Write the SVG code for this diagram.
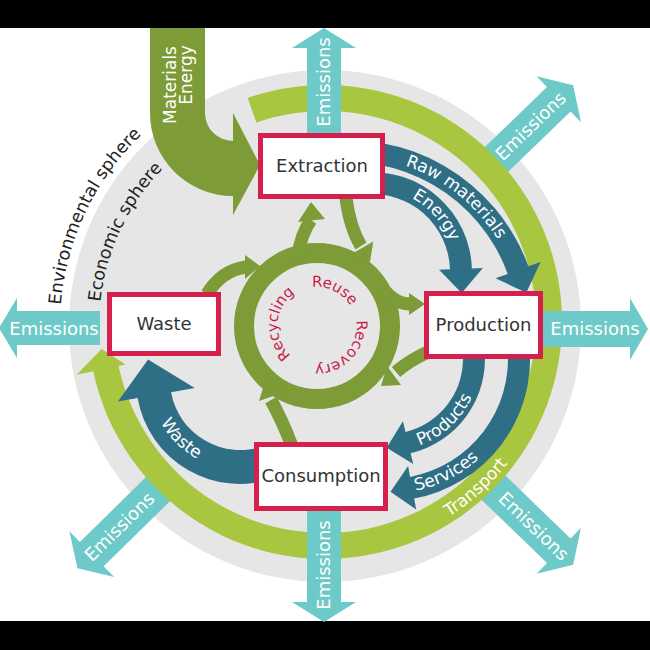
<svg xmlns="http://www.w3.org/2000/svg" width="650" height="650" viewBox="0 0 650 650">
<defs>
<style>
.em{fill:#6ecac8}
.emt{fill:#fff;font-family:"DejaVu Sans",sans-serif;font-size:18px;text-anchor:middle}
.dk{fill:#2f6f86}
.ol{fill:#7d9b36}
.olS{fill:none;stroke:#7d9b36}
.box{fill:#fff;stroke:#d51f4c;stroke-width:5}
.bt{fill:#333;font-family:"DejaVu Sans",sans-serif;font-size:18px;text-anchor:middle}
.wt{fill:#fff;font-family:"DejaVu Sans",sans-serif;font-size:17px}
.sp{fill:#222;font-family:"DejaVu Sans",sans-serif;font-size:17.5px}
.rt{fill:#c91c4a;font-family:"DejaVu Sans",sans-serif;font-size:15px}
</style>
<path id="pEnv" d="M 60,326 A 265 265 0 0 1 192.5,96.5"/>
<path id="pEco" d="M 99,326 A 226 226 0 0 1 212,130.3"/>
<path id="pTr" d="M 433.4,526 A 231 231 0 0 0 534.4,419.6"/>
<path id="pRaw" d="M 317.4,158.7 A 176 176 0 0 1 518,286.4"/>
<path id="pEn" d="M 357.4,189.3 A 84 84 0 0 1 456,272"/>
<path id="pPr" d="M 380,450.65 A 92 92 0 0 0 478.6,343"/>
<path id="pSe" d="M 376,493 A 135 135 0 0 0 522,340"/>
<path id="pWa" d="M 150.6,388 A 90 90 0 0 0 255.6,468.6"/>
<path id="pIn" d="M 297.5,359.77 A 39 39 0 1 1 336.5,292.23 A 39 39 0 1 1 297.5,359.77"/>
</defs>
<rect x="0" y="0" width="650" height="650" fill="#fff"/>
<rect x="0" y="0" width="650" height="28" fill="#000"/>
<rect x="0" y="621" width="650" height="29" fill="#000"/>
<circle cx="325" cy="326" r="256" fill="#e6e6e6"/>

<g id="emissions-diagonal">
<g transform="translate(325,325) rotate(-44)"><polygon class="em" points="225,-17 325,-17 325,-32 345,0 325,32 325,17 225,17"/></g>
<g transform="translate(325,325) rotate(44)"><polygon class="em" points="225,-17 325,-17 325,-32 345,0 325,32 325,17 225,17"/></g>
<g transform="translate(325,325) rotate(135.5)"><polygon class="em" points="225,-17 327,-17 327,-32 347,0 327,32 327,17 225,17"/></g>
</g>

<g id="transport-ring">
<path fill="#a9c640" d="M 247.8,97.9 A 237 237 0 1 1 93.2,371.3 L 76.6,374.8 L 101.7,349 L 125.5,364.4 L 118.6,365.9 A 211 211 0 1 0 256.3,122.5 Z"/>
</g>

<g id="emissions-cardinal">
<g transform="translate(324,325) rotate(-90)"><polygon class="em" points="190,-17 277,-17 277,-32 297,0 277,32 277,17 190,17"/></g>
<g transform="translate(325,329)"><polygon class="em" points="218,-18 305,-18 305,-31 323,0 305,31 305,18 218,18"/></g>
<g transform="translate(324,325) rotate(90)"><polygon class="em" points="186,-17 277,-17 277,-32 297,0 277,32 277,17 186,17"/></g>
<g transform="translate(325,328) rotate(180)"><polygon class="em" points="225,-17 308,-17 308,-30 326,0 308,30 308,17 225,17"/></g>
</g>

<g id="connectors">
<path class="dk" d="M 314.7,142.9 A 192 192 0 0 1 528.4,266.3 L 540.6,261.9 L 526.3,292.7 L 495.5,278.3 L 507.7,273.9 A 170 170 0 0 0 318.5,164.6 Z"/>
<path class="dk" d="M 363.3,172.4 A 100 100 0 0 1 471.9,268.5 L 482.9,268.1 L 461.7,292.9 L 439,269.7 L 450,269.3 A 78 78 0 0 0 365.2,194.3 Z"/>
<path class="dk" d="M 484.6,350.5 A 97 97 0 0 1 410.6,453.3 L 413.2,464 L 386.7,447.7 L 402.9,421.2 L 405.5,431.9 A 75 75 0 0 0 462.7,352.5 Z"/>
<path class="dk" d="M 529.5,346.6 A 142 142 0 0 1 414.1,498.6 L 416.2,509.4 L 390.5,491.8 L 408.1,466.1 L 410.1,476.9 A 120 120 0 0 0 507.5,348.5 Z"/>
<path class="dk" d="M 275.6,477.7 A 104 104 0 0 1 137.6,398.1 L 117.9,401.5 L 148.1,359.6 L 194.7,388 L 171.1,392.2 A 70 70 0 0 0 263.9,445.8 Z"/>

<path class="ol" d="M 150,28 L 205,28 L 205,113 A 28 28 0 0 0 233,141 L 233,113 L 260,165 L 233,215 L 233,196 A 83 83 0 0 1 150,113 Z"/>

<circle class="olS" cx="317" cy="326" r="73" stroke-width="20"/>
<g class="olS" stroke-width="13">
<path d="M 297,262 Q 300,235 311,220"/>
<path d="M 346,198 Q 350,228 361,246"/>
<path d="M 207,294 Q 222,270 246,267"/>
<path d="M 384,290 Q 396,304 410,304"/>
<path d="M 428,352 Q 410,360 396,372"/>
<path d="M 292,446 Q 282,420 271,400"/>
</g>
<polygon class="ol" points="298,222 325,219 311,202"/>
<polygon class="ol" points="350.7,254.5 373.3,241.5 370,262"/>
<polygon class="ol" points="245,255 245,279 260,266"/>
<polygon class="ol" points="409,293 409,315 425,304"/>
<polygon class="ol" points="401,385 387,366 381,386"/>
<polygon class="ol" points="282,393 259,401 265,382"/>
</g>

<g id="extraction"><rect class="box" x="260.5" y="135.5" width="122" height="61"/><text class="bt" x="322" y="172">Extraction</text></g>
<g id="waste"><rect class="box" x="109.5" y="294.5" width="109" height="59"/><text class="bt" x="164" y="330">Waste</text></g>
<g id="production"><rect class="box" x="426.5" y="293.5" width="114" height="63"/><text class="bt" x="483.5" y="331">Production</text></g>
<g id="consumption"><rect class="box" x="256.5" y="444.5" width="129" height="64"/><text class="bt" x="321" y="482">Consumption</text></g>

<g id="labels">
<text class="emt" transform="translate(330,82) rotate(-90)">Emissions</text>
<text class="emt" transform="translate(330,565) rotate(-90)">Emissions</text>
<text class="emt" x="595" y="335">Emissions</text>
<text class="emt" x="54" y="335">Emissions</text>
<text class="emt" transform="translate(535,130.6) rotate(-44)">Emissions</text>
<text class="emt" transform="translate(529.4,530.8) rotate(44)">Emissions</text>
<text class="emt" transform="translate(123.8,531.2) rotate(-44.5)">Emissions</text>

<text class="wt" font-size="18" text-anchor="middle" transform="translate(176,85) rotate(-90)">Materials</text>
<text class="wt" font-size="18" text-anchor="middle" transform="translate(192,75) rotate(-90)">Energy</text>

<text class="sp"><textPath href="#pEnv" startOffset="21">Environmental sphere</textPath></text>
<text class="sp"><textPath href="#pEco" startOffset="24">Economic sphere</textPath></text>
<text class="wt" font-size="18"><textPath href="#pTr" startOffset="18">Transport</textPath></text>
<text class="wt"><textPath href="#pRaw" startOffset="89">Raw materials</textPath></text>
<text class="wt"><textPath href="#pEn" startOffset="56">Energy</textPath></text>
<text class="wt"><textPath href="#pPr" startOffset="40">Products</textPath></text>
<text class="wt"><textPath href="#pSe" startOffset="40">Services</textPath></text>
<text class="wt"><textPath href="#pWa" startOffset="36">Waste</textPath></text>
<text class="rt"><textPath href="#pIn" startOffset="8">Recycling</textPath></text>
<text class="rt"><textPath href="#pIn" startOffset="98">Reuse</textPath></text>
<text class="rt"><textPath href="#pIn" startOffset="159">Recovery</textPath></text>
</g>
</svg>
